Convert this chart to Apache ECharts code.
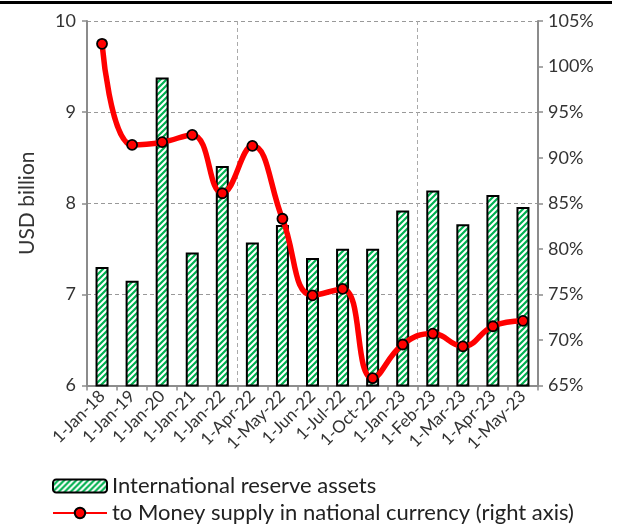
<!DOCTYPE html>
<html>
<head>
<meta charset="utf-8">
<script src="https://cdn.jsdelivr.net/npm/echarts@6/dist/echarts.min.js"></script>
<style>
html,body{margin:0;padding:0;background:#fff;}
#chart{width:619px;height:524px;}
</style>
</head>
<body>
<div id="chart"></div>
<script>
var categories = ['1-Jan-18','1-Jan-19','1-Jan-20','1-Jan-21','1-Jan-22','1-Apr-22','1-May-22','1-Jun-22','1-Jul-22','1-Oct-22','1-Jan-23','1-Feb-23','1-Mar-23','1-Apr-23','1-May-23'];
var reserveAssets = [7.30, 7.15, 9.38, 7.46, 8.41, 7.57, 7.76, 7.40, 7.50, 7.50, 7.92, 8.14, 7.77, 8.09, 7.96];
var moneySupplyRatio = [102.5, 91.4, 91.7, 92.5, 86.1, 91.3, 83.3, 74.9, 75.6, 65.8, 69.5, 70.7, 69.3, 71.5, 72.1];
var leftTicks = [6, 10, 1];
var rightTicks = [65, 105, 5];
var seriesNames = ['International reserve assets', 'to Money supply in national currency (right axis)'];
var yTitle = 'USD billion';

// stripe pattern
var pc = document.createElement('canvas');
pc.width = 6; pc.height = 6;
var ctx = pc.getContext('2d');
ctx.fillStyle = '#ffffff';
ctx.fillRect(0,0,6,6);
ctx.strokeStyle = '#00B050';
ctx.lineWidth = 2.2;
ctx.beginPath();
ctx.moveTo(-3,3); ctx.lineTo(3,-3);
ctx.moveTo(0,6); ctx.lineTo(6,0);
ctx.moveTo(3,9); ctx.lineTo(9,3);
ctx.stroke();

var font = 'Lato';
var chart = echarts.init(document.getElementById('chart'), null, {renderer:'canvas'});
chart.setOption({
  animation: false,
  backgroundColor: '#fff',
  textStyle: {fontFamily: font},
  graphic: [
    {type:'rect', shape:{x:0,y:1,width:612,height:3}, style:{fill:'#000'}}
  ],
  grid: {left: 87, right: 81, top: 21, bottom: 138.5, containLabel: false},
  legend: {
    orient: 'vertical', left: 52, top: 475, itemGap: 5, padding: 0,
    itemWidth: 54, itemHeight: 13,
    textStyle: {fontFamily: font, fontSize: 22, color: '#222', lineHeight: 21},
    data: [
      {name: seriesNames[0], itemStyle:{borderColor:'#000', borderWidth:2}},
      {name: seriesNames[1]}
    ]
  },
  xAxis: {
    type: 'category', data: categories, boundaryGap: true,
    axisLine: {lineStyle: {color: '#8c8c8c', width: 2}},
    axisTick: {show: true, inside: false, length: 5, alignWithLabel: false, lineStyle: {color:'#8c8c8c', width: 1.5}},
    axisLabel: {rotate: 45, interval: 0, fontSize: 17, color: '#333', fontFamily: font, margin: 8},
    splitLine: {show: true, interval: function(i){ return i === 5 || i === 11; }, lineStyle: {color:'#aaa', type:[4,3], width:1}}
  },
  yAxis: [
    {
      type: 'value', min: leftTicks[0], max: leftTicks[1], interval: leftTicks[2],
      name: yTitle, nameLocation: 'middle', nameGap: 49, nameRotate: 90,
      nameTextStyle: {fontSize: 21, color: '#333', fontFamily: font},
      axisLine: {show: true, lineStyle: {color:'#8c8c8c', width: 2}},
      axisTick: {show: true, length: 5, lineStyle: {color:'#8c8c8c', width: 1.5}},
      axisLabel: {fontSize: 18, color: '#333', margin: 11, fontFamily: font},
      splitLine: {show: true, lineStyle: {color:'#999', type:[4,3], width:1}}
    },
    {
      type: 'value', min: rightTicks[0], max: rightTicks[1], interval: rightTicks[2], position: 'right',
      axisLine: {show: true, lineStyle: {color:'#8c8c8c', width: 2}},
      axisTick: {show: true, length: 5, lineStyle: {color:'#8c8c8c', width: 1.5}},
      axisLabel: {fontSize: 18, color: '#333', margin: 10, formatter: '{value}%', fontFamily: font},
      splitLine: {show: false}
    }
  ],
  series: [
    {
      name: seriesNames[0], type: 'bar', yAxisIndex: 0, data: reserveAssets,
      barWidth: 13,
      itemStyle: {color: {image: pc, repeat: 'repeat'}, borderColor: '#000', borderWidth: 2}
    },
    {
      name: seriesNames[1], type: 'line', yAxisIndex: 1, data: moneySupplyRatio,
      smooth: 0.45, symbol: 'circle', symbolSize: 10, z: 5,
      lineStyle: {color: '#ff0000', width: 5.5},
      itemStyle: {color: '#ff0000', borderColor: '#000', borderWidth: 1.8}
    }
  ]
});
</script>
</body>
</html>
